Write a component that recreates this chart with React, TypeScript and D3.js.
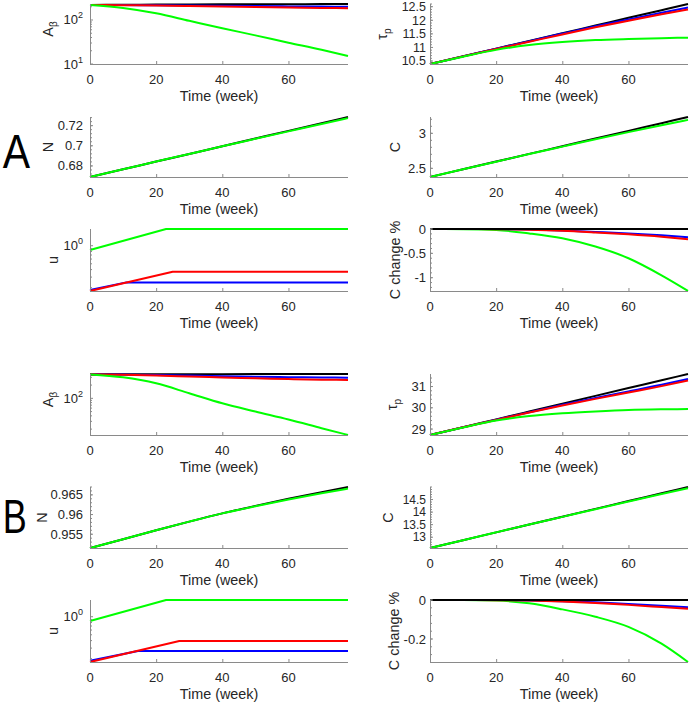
import React from "react";
import * as d3 from "d3";

// ---------- shared axis data ----------
const weeks = [0, 10, 20, 30, 40, 50, 60, 70, 78];
const xTickValues = [0, 20, 40, 60];
const xDomain = [0, 78];
const xTitle = "Time (week)";

// ---------- Panel A ----------
const abetaA_black = [220, 222, 224, 225.5, 227, 228, 229, 230, 231];
const abetaA_blue = [220, 218, 216, 213, 210, 207, 204, 202, 200];
const abetaA_red = [220, 217, 213, 208, 203, 198, 193, 188, 185];
const abetaA_green = [220, 188, 142, 96, 65, 44.7, 30.5, 21, 15.2];
const abetaA_domain = [10, 231];

const tauA_black = [10.39, 10.673, 10.957, 11.24, 11.523, 11.807, 12.09, 12.373, 12.6];
const tauA_blue = [10.39, 10.67, 10.95, 11.23, 11.51, 11.78, 12.03, 12.28, 12.47];
const tauA_red = [10.39, 10.67, 10.94, 11.21, 11.48, 11.74, 11.98, 12.22, 12.4];
const tauA_green = [10.39, 10.66, 10.91, 11.09, 11.2, 11.27, 11.31, 11.34, 11.36];
const tauA_domain = [10.39, 12.6];
const tauA_ticks = [10.5, 11, 11.5, 12, 12.5];

const nA_black = [0.669, 0.6766, 0.6843, 0.6919, 0.6996, 0.7072, 0.7148, 0.7225, 0.7286];
const nA_green = [0.669, 0.6766, 0.6843, 0.6919, 0.6995, 0.7069, 0.7143, 0.7217, 0.7275];
const nA_domain = [0.669, 0.7286];
const nA_ticks = [0.68, 0.7, 0.72];

const cA_black = [2.376, 2.486, 2.596, 2.706, 2.815, 2.925, 3.035, 3.145, 3.233];
const cA_green = [2.376, 2.486, 2.595, 2.704, 2.81, 2.915, 3.017, 3.115, 3.192];
const cA_domain = [2.376, 3.233];
const cA_ticks = [2.5, 3];

const uA_green_t = [0, 23, 78];
const uA_green = [0.848, 1.9, 1.9];
const uA_red_t = [0, 25, 78];
const uA_red = [0.176, 0.369, 0.369];
const uA_blue_t = [0, 11, 78];
const uA_blue = [0.183, 0.245, 0.245];
const uA_domain = [0.176, 1.9];

const ccA_black = [0, 0, 0, 0, 0, 0, 0, 0, 0];
const ccA_blue = [0, 0, -0.002, -0.01, -0.03, -0.06, -0.09, -0.13, -0.17];
const ccA_red = [0, 0, -0.003, -0.013, -0.035, -0.07, -0.11, -0.16, -0.21];
const ccA_green = [0, -0.003, -0.02, -0.09, -0.19, -0.36, -0.6, -0.95, -1.27];
const ccA_domain = [-1.273, 0];
const ccA_ticks = [-1, -0.5, 0];

// ---------- Panel B ----------
const abetaB_black = [350, 351, 352, 353, 354, 355, 356, 356.5, 357];
const abetaB_blue = [350, 346, 338, 328, 318, 310, 303, 298, 294];
const abetaB_red = [350, 343, 330, 313, 298, 285, 274, 266, 261];
const abetaB_green = [350, 300, 219, 130, 77, 50, 33, 21, 14.7];
const abetaB_domain = [14.7, 357];

const tauB_black = [28.72, 29.088, 29.456, 29.824, 30.192, 30.56, 30.928, 31.296, 31.59];
const tauB_blue = [28.72, 29.08, 29.44, 29.79, 30.14, 30.46, 30.77, 31.08, 31.35];
const tauB_red = [28.72, 29.08, 29.43, 29.78, 30.11, 30.42, 30.72, 31.02, 31.28];
const tauB_green = [28.72, 29.07, 29.4, 29.61, 29.74, 29.83, 29.9, 29.93, 29.94];
const tauB_domain = [28.72, 31.59];
const tauB_ticks = [29, 30, 31];

const nB_black = [0.9515, 0.9537, 0.956, 0.9582, 0.9603, 0.9622, 0.964, 0.9657, 0.967];
const nB_green = [0.9515, 0.9537, 0.956, 0.9582, 0.9603, 0.9621, 0.9638, 0.9654, 0.9666];
const nB_domain = [0.9515, 0.967];
const nB_ticks = [0.955, 0.96, 0.965];

const cB_black = [12.57, 12.882, 13.193, 13.505, 13.816, 14.128, 14.439, 14.751, 15.0];
const cB_green = [12.57, 12.882, 13.193, 13.503, 13.81, 14.116, 14.419, 14.718, 14.952];
const cB_domain = [12.57, 15.0];
const cB_ticks = [13, 13.5, 14, 14.5];

const uB_green_t = [0, 23, 78];
const uB_green = [0.848, 1.9, 1.9];
const uB_red_t = [0, 27, 78];
const uB_red = [0.176, 0.394, 0.394];
const uB_blue_t = [0, 14.5, 78];
const uB_blue = [0.185, 0.268, 0.268];
const uB_domain = [0.176, 1.9];

const ccB_black = [0, 0, 0, 0, 0, 0, 0, 0, 0];
const ccB_blue = [0, 0, 0, -0.002, -0.006, -0.012, -0.02, -0.029, -0.037];
const ccB_red = [0, 0, -0.001, -0.003, -0.008, -0.015, -0.025, -0.036, -0.045];
const ccB_green = [0, 0, -0.003, -0.017, -0.048, -0.086, -0.138, -0.224, -0.318];
const ccB_domain = [-0.318, 0];
const ccB_ticks = [-0.2, 0];

// ---------- styling / layout ----------
const BLACK = "#000000";
const BLUE = "#0000ff";
const RED = "#ff0000";
const GREEN = "#00ff00";
const AXIS = "#8a8a8a";
const TEXT = "#262626";
const FONT = "'Liberation Sans', Arial, Helvetica, sans-serif";
const PW = 258;
const COL_LEFT = [90, 430];
const ROWS: [number, number][] = [
  [4, 64], [117, 177], [229, 291],
  [374, 435], [487, 548], [600, 662],
];

type Series = { color: string; t: number[]; v: number[] };
type PanelCfg = {
  col: number; row: number; log: boolean; domain: number[];
  ticks?: number[]; logTicks?: number[]; tickFont?: number;
  label: string; sub?: string; labelX: number; labelDy?: number;
  series: Series[]; step?: boolean;
};

const s = (color: string, v: number[], t: number[] = weeks): Series => ({ color, t, v });

const panels: PanelCfg[] = [
  { col: 0, row: 0, log: true, domain: abetaA_domain, logTicks: [10, 100], label: "A", sub: "β", labelX: 53, labelDy: -5,
    series: [s(BLACK, abetaA_black), s(BLUE, abetaA_blue), s(RED, abetaA_red), s(GREEN, abetaA_green)] },
  { col: 1, row: 0, log: false, domain: tauA_domain, ticks: tauA_ticks, tickFont: 12.5, label: "τ", sub: "p", labelX: 387,
    series: [s(BLACK, tauA_black), s(BLUE, tauA_blue), s(RED, tauA_red), s(GREEN, tauA_green)] },
  { col: 0, row: 1, log: false, domain: nA_domain, ticks: nA_ticks, label: "N", labelX: 53,
    series: [s(BLACK, nA_black), s(GREEN, nA_green)] },
  { col: 1, row: 1, log: false, domain: cA_domain, ticks: cA_ticks, label: "C", labelX: 400,
    series: [s(BLACK, cA_black), s(GREEN, cA_green)] },
  { col: 0, row: 2, log: true, domain: uA_domain, logTicks: [1], label: "u", labelX: 58, step: true,
    series: [s(BLUE, uA_blue, uA_blue_t), s(RED, uA_red, uA_red_t), s(GREEN, uA_green, uA_green_t)] },
  { col: 1, row: 2, log: false, domain: ccA_domain, ticks: ccA_ticks, label: "C change %", labelX: 400,
    series: [s(GREEN, ccA_green), s(BLUE, ccA_blue), s(RED, ccA_red), s(BLACK, ccA_black)] },
  { col: 0, row: 3, log: true, domain: abetaB_domain, logTicks: [100], label: "A", sub: "β", labelX: 53, labelDy: -5,
    series: [s(BLACK, abetaB_black), s(BLUE, abetaB_blue), s(RED, abetaB_red), s(GREEN, abetaB_green)] },
  { col: 1, row: 3, log: false, domain: tauB_domain, ticks: tauB_ticks, label: "τ", sub: "p", labelX: 397,
    series: [s(BLACK, tauB_black), s(BLUE, tauB_blue), s(RED, tauB_red), s(GREEN, tauB_green)] },
  { col: 0, row: 4, log: false, domain: nB_domain, ticks: nB_ticks, label: "N", labelX: 47,
    series: [s(BLACK, nB_black), s(GREEN, nB_green)] },
  { col: 1, row: 4, log: false, domain: cB_domain, ticks: cB_ticks, tickFont: 12, label: "C", labelX: 393,
    series: [s(BLACK, cB_black), s(GREEN, cB_green)] },
  { col: 0, row: 5, log: true, domain: uB_domain, logTicks: [1], label: "u", labelX: 58, step: true,
    series: [s(BLUE, uB_blue, uB_blue_t), s(RED, uB_red, uB_red_t), s(GREEN, uB_green, uB_green_t)] },
  { col: 1, row: 5, log: false, domain: ccB_domain, ticks: ccB_ticks, label: "C change %", labelX: 399,
    series: [s(GREEN, ccB_green), s(BLUE, ccB_blue), s(RED, ccB_red), s(BLACK, ccB_black)] },
];

function fmt(v: number) {
  return String(+v.toFixed(4));
}

function Panel({ cfg }: { cfg: PanelCfg }) {
  const left = COL_LEFT[cfg.col];
  const [top, bottom] = ROWS[cfg.row];
  const x = d3.scaleLinear().domain(xDomain).range([left, left + PW]);
  const y = cfg.log
    ? d3.scaleLog().domain(cfg.domain).range([bottom, top])
    : d3.scaleLinear().domain(cfg.domain).range([bottom, top]);
  const gap = cfg.col === 0 ? 7 : 4;
  const cy = (top + bottom) / 2 + (cfg.labelDy || 0);
  const tf = cfg.tickFont || 13;

  const minor: number[] = [];
  const [d0, d1] = cfg.domain;
  if (cfg.log) {
    for (let e = Math.floor(Math.log10(d0)); e <= Math.ceil(Math.log10(d1)); e++) {
      for (let m = 2; m <= 9; m++) {
        const v = m * Math.pow(10, e);
        if (v >= d0 && v <= d1) minor.push(v);
      }
    }
  } else if (cfg.ticks && cfg.ticks.length > 1) {
    const step = (cfg.ticks[1] - cfg.ticks[0]) / 5;
    const start = Math.ceil(d0 / step - 1e-9);
    for (let k = start; k * step <= d1 + 1e-9; k++) minor.push(k * step);
  }

  const line = d3
    .line<[number, number]>()
    .x((d) => x(d[0]))
    .y((d) => y(d[1]))
    .curve(cfg.step ? d3.curveLinear : d3.curveMonotoneX);

  return (
    <g>
      {cfg.series.map((se, i) => (
        <path
          key={i}
          d={line(se.t.map((t, j) => [t, se.v[j]] as [number, number])) || ""}
          fill="none"
          stroke={se.color}
          strokeWidth={2}
          strokeLinejoin="round"
        />
      ))}
      <line x1={left + 0.5} x2={left + 0.5} y1={top} y2={bottom + 0.5} stroke={AXIS} strokeWidth={1} />
      <line x1={left} x2={left + PW} y1={bottom + 0.5} y2={bottom + 0.5} stroke={AXIS} strokeWidth={1} />
      {minor.map((v, i) => (
        <line key={"m" + i} x1={left} x2={left + 2} y1={y(v)} y2={y(v)} stroke={AXIS} strokeWidth={1} />
      ))}
      {(cfg.ticks || cfg.logTicks || []).map((v, i) => (
        <line key={"t" + i} x1={left} x2={left + 3} y1={y(v)} y2={y(v)} stroke={AXIS} strokeWidth={1} />
      ))}
      {xTickValues.map((v, i) => (
        <line key={"xt" + i} x1={x(v) + 0.5} x2={x(v) + 0.5} y1={bottom} y2={bottom - 3} stroke={AXIS} strokeWidth={1} />
      ))}
      {cfg.ticks &&
        cfg.ticks.map((v, i) => (
          <text key={"yl" + i} x={left - gap} y={y(v) + tf * 0.35} textAnchor="end" fontSize={tf} fill={TEXT}>
            {fmt(v)}
          </text>
        ))}
      {cfg.logTicks &&
        cfg.logTicks.map((v, i) => (
          <text key={"ll" + i} x={left - gap} y={y(v) + 4.5} textAnchor="end" fontSize={13} fill={TEXT}>
            <tspan>10</tspan>
            <tspan dy={-6} fontSize={9}>{String(Math.round(Math.log10(v)))}</tspan>
          </text>
        ))}
      {xTickValues.map((v, i) => (
        <text key={"xl" + i} x={x(v)} y={bottom + 20} textAnchor="middle" fontSize={13} fill={TEXT}>
          {v}
        </text>
      ))}
      <text x={left + PW / 2} y={bottom + 36.5} textAnchor="middle" fontSize={14.4} fill={TEXT}>
        {xTitle}
      </text>
      <text
        transform={`translate(${cfg.labelX},${cy}) rotate(-90)`}
        textAnchor="middle"
        fontSize={14.4}
        fill={TEXT}
      >
        {cfg.label}
        {cfg.sub && (
          <tspan dy={4} fontSize={10}>
            {cfg.sub}
          </tspan>
        )}
      </text>
    </g>
  );
}

export default function App() {
  return (
    <svg
      width={692}
      height={704}
      viewBox="0 0 692 704"
      style={{ position: "absolute", left: 0, top: 0, background: "#ffffff", fontFamily: FONT }}
    >
      <rect x={0} y={0} width={692} height={704} fill="#ffffff" />
      {panels.map((p, i) => (
        <Panel key={i} cfg={p} />
      ))}
      <text x={2.7} y={167.7} fontSize={48} textLength={27.3} lengthAdjust="spacingAndGlyphs" fill="#000">
        A
      </text>
      <text x={2.7} y={532.7} fontSize={48} textLength={24} lengthAdjust="spacingAndGlyphs" fill="#000">
        B
      </text>
    </svg>
  );
}
